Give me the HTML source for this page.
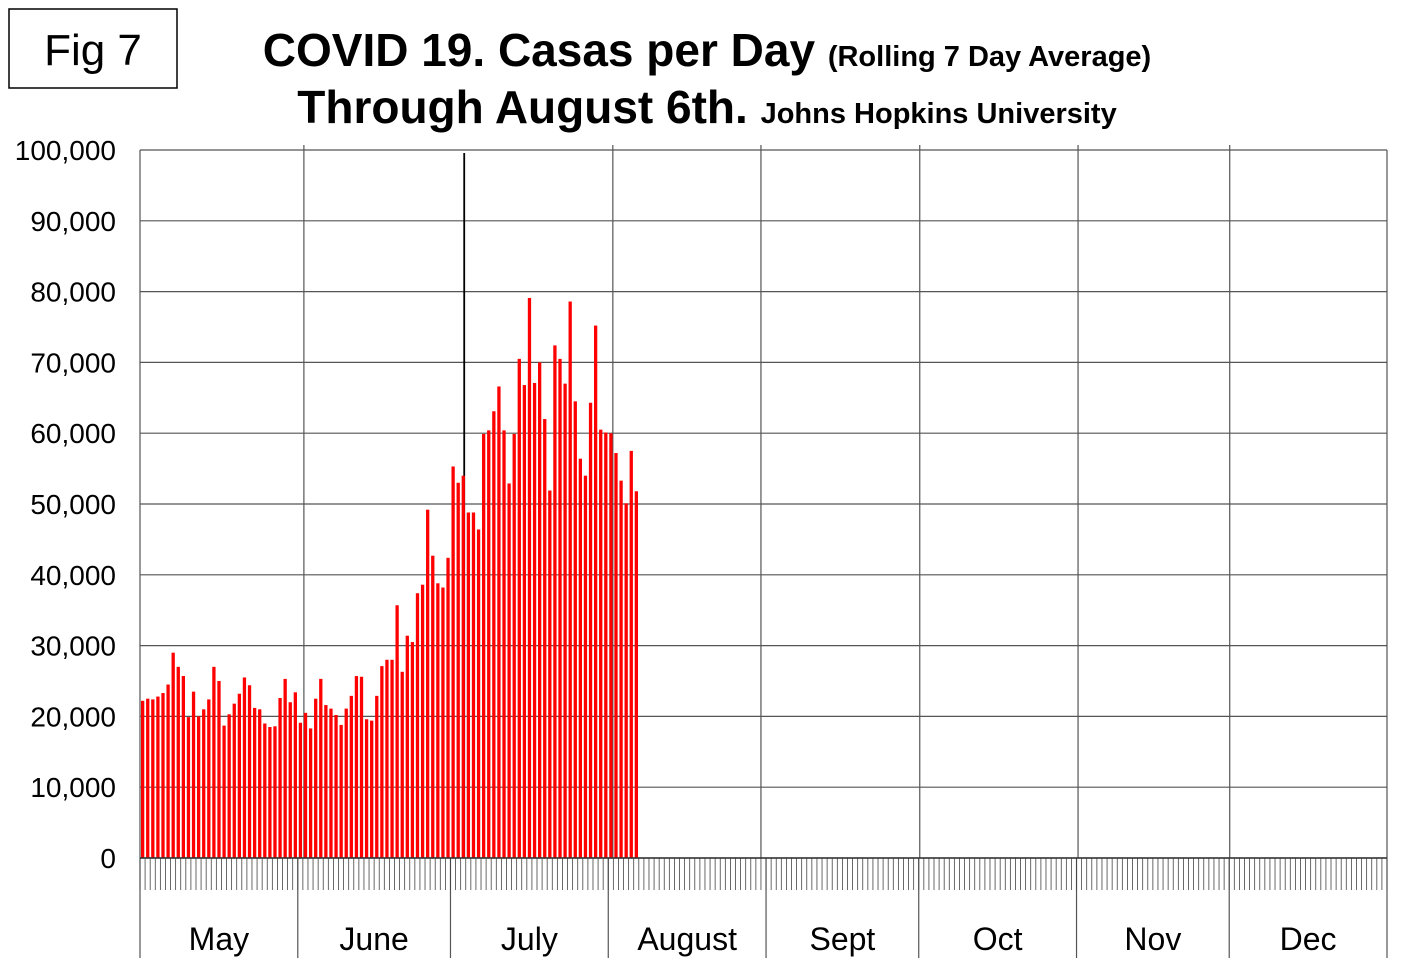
<!DOCTYPE html>
<html><head><meta charset="utf-8">
<style>
body{margin:0;background:#fff;}
svg{display:block;font-family:"Liberation Sans",Arial,sans-serif;}
</style></head>
<body>
<svg id="chart" width="1420" height="973" viewBox="0 0 1420 973">
<rect width="1420" height="973" fill="#fff"/>
<rect x="9" y="9" width="168" height="79" fill="none" stroke="#000" stroke-width="1.5"/>
<text x="93" y="65" font-size="44" text-anchor="middle">Fig 7</text>
<text x="707" y="66" font-size="46" font-weight="bold" text-anchor="middle">COVID 19. Casas per Day <tspan font-size="29">(Rolling 7 Day Average)</tspan></text>
<text x="707" y="123" font-size="46" font-weight="bold" text-anchor="middle">Through August 6th. <tspan font-size="29">Johns Hopkins University</tspan></text>
<g id="grid"></g>
<g id="bars"></g>
<g id="axes"></g>
</svg>
<script>
const yTicks=[0,10000,20000,30000,40000,50000,60000,70000,80000,90000,100000];
const months=["May","June","July","August","Sept","Oct","Nov","Dec"];
const monthDays=[31,30,31,31,30,31,30,31];
const gridDays=[32.2,63.7,92.9,122,153.2,184.3,214.1];
const cases=[22.2,22.5,22.4,22.8,23.3,24.5,29,27,25.7,19.9,23.5,20,21,22.4,27,25,18.7,20.3,21.8,23.2,25.5,24.4,21.2,21,19,18.5,18.6,22.6,25.3,22,23.4,
19.1,20.5,18.3,22.5,25.3,21.6,21.1,20.2,18.8,21.1,22.9,25.7,25.6,19.6,19.4,22.9,27.1,28,28,35.7,26.3,31.4,30.5,37.4,38.6,49.2,42.7,38.8,38.2,42.4,
55.3,53,54,48.8,48.8,46.4,59.9,60.4,63.1,66.6,60.4,52.9,59.9,70.5,66.8,79.1,67.1,70,62,51.9,72.4,70.5,67.0,78.6,64.5,56.4,54,64.3,75.2,60.5,60.1,
60,57.2,53.3,50.1,57.5,51.8].map(v=>v*1000);
const NS="http://www.w3.org/2000/svg";
const X0=140,X1=1387,Y0=858,Y1=150;
const totalDays=monthDays.reduce((a,b)=>a+b,0);
const xs=d=>X0+(X1-X0)*d/totalDays;
const ys=v=>Y0-(Y0-Y1)*v/100000;
function mk(tag,attrs,parent){const e=document.createElementNS(NS,tag);for(const k in attrs)e.setAttribute(k,attrs[k]);parent.appendChild(e);return e;}
const grid=document.getElementById('grid'),bars=document.getElementById('bars'),axes=document.getElementById('axes');
yTicks.forEach(t=>{
  const l=mk('line',{x1:X0,x2:X1,y1:ys(t),y2:ys(t),stroke:'#555','stroke-width':1.2},grid);
  
  
  const tx=mk('text',{x:116,y:ys(t)+10,'font-size':28,'text-anchor':'end'},axes);
  tx.textContent=t.toLocaleString('en-US');
  
  
});
gridDays.forEach((d,i)=>{
  const gx=xs(d);
  const g=mk('line',{x1:gx,x2:gx,y1:i==1?153:Y1-5,y2:Y0,stroke:i==1?'#000':'#555','stroke-width':i==1?1.8:1.2},grid);
  
  
});
let cum=0;
monthDays.forEach((d,i)=>{
  const gx=xs(cum);
  const s=mk('line',{x1:gx,x2:gx,y1:Y0,y2:958,stroke:'#555','stroke-width':1.2},axes);
  
  
  const lb=mk('text',{x:xs(cum+d/2),y:950,'font-size':32,'text-anchor':'middle'},axes);
  lb.textContent=months[i];
  
  
  cum+=d;
});
mk('line',{x1:X1,x2:X1,y1:Y1,y2:958,stroke:'#555','stroke-width':1.2},axes);
mk('line',{x1:X0,x2:X0,y1:Y1,y2:Y0,stroke:'#555','stroke-width':1.2},axes);
for(let d=0;d<=totalDays;d++){
  const x=xs(d);
  mk('line',{x1:x,x2:x,y1:Y0,y2:890,stroke:'#444','stroke-width':0.8},axes);
}
mk('line',{x1:X0,x2:X1,y1:Y0,y2:Y0,stroke:'#333','stroke-width':1.5},axes);
const bw=(X1-X0)/totalDays;
cases.forEach((v,i)=>{
  const r=mk('rect',{x:xs(i)+1,y:ys(v),width:bw-1.8,height:Y0-ys(v),fill:'#ff0000'},bars);
  
  
});
</script>
</body></html>
